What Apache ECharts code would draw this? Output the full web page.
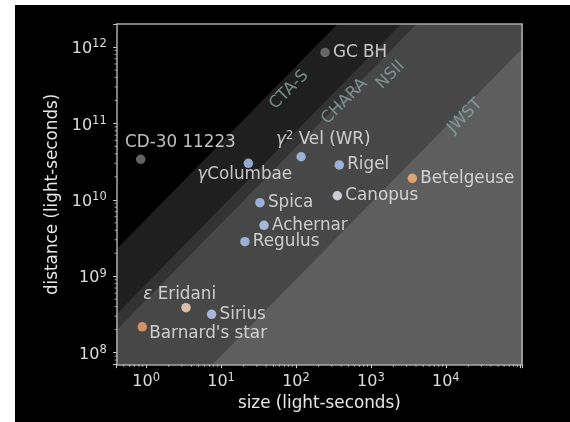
<!DOCTYPE html>
<html>
<head>
<meta charset="utf-8">
<script src="https://cdn.jsdelivr.net/npm/echarts@6/dist/echarts.min.js"></script>
<style>
  html, body { margin: 0; padding: 0; background: #ffffff; }
  #chart { position: absolute; left: 15px; top: 5px; width: 555px; height: 417px; background: #000000; }
</style>
</head>
<body>
<div id="chart"></div>
<script>
// Objects: physical size vs. distance, both in light-seconds
const starNames = ['CD-30 11223', 'γColumbae', 'γ² Vel (WR)', 'GC BH', 'Rigel', 'Betelgeuse', 'Canopus',
                   'Spica', 'Achernar', 'Regulus', 'ε Eridani', 'Sirius', "Barnard's star"];
const starSizes = [0.845, 23.1, 117, 244, 378, 3570, 356, 33.0, 37.4, 20.8, 3.40, 7.48, 0.887];
const starDistances = [3.39e10, 3.0e10, 3.66e10, 8.5e11, 2.86e10, 1.91e10, 1.13e10,
                       9.17e9, 4.64e9, 2.83e9, 3.87e8, 3.17e8, 2.18e8];

// Resolution limits of each instrument, as distance/size ratios (1 / angle in radians)
const bandRatios = [5.6e9, 7.9e8, 4.9e8, 9.1e6];
// Instrument names and where their names are written (size, distance)
const bandNames = ['CTA-S', 'CHARA', 'NSII', 'JWST'];
const bandNameSizes = [80.7, 444, 1828, 18030];
const bandNameDistances = [2.74e11, 1.94e11, 4.30e11, 1.25e11];

// Axis ranges
const xRange = [0.404, 1.04e5];
const yRange = [6.95e7, 2.0e12];

// ---- styling ----
const bandColors = ['#1f1f1f', '#333333', '#474747', '#5e5e5e'];
const starColors = {
  'CD-30 11223': '#7a7a7a', 'GC BH': '#7a7a7a',
  'γColumbae': '#b0cbfa', 'γ² Vel (WR)': '#b0cbfa', 'Rigel': '#b0cbfa', 'Spica': '#b0cbfa',
  'Achernar': '#bed4fa', 'Regulus': '#b0cbfa', 'Sirius': '#bed4fa',
  'Canopus': '#eeeefa', 'Betelgeuse': '#fbb677', 'ε Eridani': '#fde0c5', "Barnard's star": '#f6a869'
};
// Label placement relative to each dot: [align, dx, dy]
const labelPlace = {
  'CD-30 11223': ['left', -15.7, -16.3],
  'γColumbae': ['center', -3.6, 11.7],
  'γ² Vel (WR)': ['left', -25, -16.7],
  'ε Eridani': ['left', -42.7, -12.7],
  "Barnard's star": ['left', 7, 6.6]
};
const textColor = '#eeeeee';
const frameColor = '#ababab';
const font = 'DejaVu Sans';

function richName(n) {
  return n.replace(/([γε])/g, '{g|$1}').replace('²', '{s|2}');
}

function minorValues(lo, hi) {
  const out = [];
  for (let e = Math.floor(Math.log10(lo)); e <= Math.ceil(Math.log10(hi)); e++) {
    for (let m = 2; m <= 9; m++) {
      const v = m * Math.pow(10, e);
      if (v > lo && v < hi) out.push(v);
    }
  }
  return out;
}

function powLabel(maxExp) {
  return function (v) {
    const l = Math.log10(v);
    const e = Math.round(l);
    if (Math.abs(l - e) > 1e-6 || e > maxExp) return '';
    return '{b|10}{s|' + e + '}';
  };
}

const tickRich = {
  b: { fontSize: 16, lineHeight: 21, color: '#dddddd', fontFamily: font },
  s: { fontSize: 11.5, lineHeight: 10, verticalAlign: 'top', color: '#dddddd', fontFamily: font }
};

const starData = starNames.map((n, i) => {
  const p = labelPlace[n];
  const label = p
    ? { position: 'inside', align: p[0], verticalAlign: 'middle', offset: [p[1], p[2]] }
    : { position: 'right', distance: 3.2, align: 'left', verticalAlign: 'middle' };
  return { name: n, value: [starSizes[i], starDistances[i]], itemStyle: { color: starColors[n] }, label: label };
});

const bandLabelData = bandNames.map((n, i) => ({ name: n, value: [bandNameSizes[i], bandNameDistances[i]] }));

const chart = echarts.init(document.getElementById('chart'), null, { renderer: 'canvas' });

chart.setOption({
  backgroundColor: '#000000',
  animation: false,
  grid: { left: 101.7, top: 19, width: 405.3, height: 340.7, outerBoundsMode: 'none', containLabel: false },
  xAxis: [{
    type: 'log', logBase: 10, min: xRange[0], max: xRange[1], z: 10,
    name: 'size (light-seconds)', nameLocation: 'middle', nameGap: 24,
    nameTextStyle: { color: '#e6e6e6', fontSize: 16.8, fontFamily: font },
    axisLine: { show: true, lineStyle: { color: frameColor, width: 1.5 } },
    axisTick: { show: true, inside: false, length: 3.5, lineStyle: { color: '#cccccc', width: 1 } },
    axisLabel: { show: true, margin: 7, formatter: powLabel(4), rich: tickRich, showMinLabel: true, showMaxLabel: true },
    splitLine: { show: false }, minorTick: { show: false }, minorSplitLine: { show: false }
  }, {
    type: 'value', position: 'top', min: 0, max: 1, z: 10,
    axisLine: { show: true, onZero: false, lineStyle: { color: frameColor, width: 1.5 } },
    axisTick: { show: false }, axisLabel: { show: false }, splitLine: { show: false }
  }],
  yAxis: [{
    type: 'log', logBase: 10, min: yRange[0], max: yRange[1], z: 10,
    name: 'distance (light-seconds)', nameLocation: 'middle', nameGap: 55, nameRotate: 90,
    nameTextStyle: { color: '#e6e6e6', fontSize: 16.8, fontFamily: font },
    axisLine: { show: true, lineStyle: { color: frameColor, width: 1.5 } },
    axisTick: { show: true, inside: false, length: 3.5, lineStyle: { color: '#cccccc', width: 1 } },
    axisLabel: { show: true, margin: 10, formatter: powLabel(99), rich: tickRich, padding: [4, 0, 0, 0] },
    splitLine: { show: false }, minorTick: { show: false }, minorSplitLine: { show: false }
  }, {
    type: 'value', position: 'right', min: 0, max: 1, z: 10,
    axisLine: { show: true, onZero: false, lineStyle: { color: frameColor, width: 1.5 } },
    axisTick: { show: false }, axisLabel: { show: false }, splitLine: { show: false }
  }],
  series: [
    {
      // Shaded regions below each instrument's resolution limit
      type: 'custom', name: 'bands', xAxisIndex: 0, yAxisIndex: 0, clip: true, silent: true, z: 1,
      data: bandRatios.map((r, i) => [r, i]),
      renderItem: function (params, api) {
        const r = api.value(0);
        const i = api.value(1);
        const x0 = xRange[0] / 10, x1 = xRange[1] * 10;
        const pts = [
          api.coord([x0, r * x0]),
          api.coord([x1, r * x1]),
          api.coord([x1, yRange[0] / 1000]),
          api.coord([x0, yRange[0] / 1000])
        ];
        return { type: 'polygon', shape: { points: pts }, style: { fill: bandColors[i] } };
      }
    },
    {
      // Minor ticks on the size axis
      type: 'custom', name: 'xminor', xAxisIndex: 0, yAxisIndex: 0, silent: true, z: 11,
      data: minorValues(xRange[0], xRange[1]).map(v => [v, yRange[0]]),
      renderItem: function (params, api) {
        const p = api.coord([api.value(0), yRange[0]]);
        return { type: 'line', shape: { x1: p[0], y1: p[1], x2: p[0], y2: p[1] + 2.2 },
                 style: { stroke: '#cccccc', lineWidth: 0.8 } };
      }
    },
    {
      // Minor ticks on the distance axis
      type: 'custom', name: 'yminor', xAxisIndex: 0, yAxisIndex: 0, silent: true, z: 11,
      data: minorValues(yRange[0], yRange[1]).map(v => [xRange[0], v]),
      renderItem: function (params, api) {
        const p = api.coord([xRange[0], api.value(1)]);
        return { type: 'line', shape: { x1: p[0], y1: p[1], x2: p[0] - 2.2, y2: p[1] },
                 style: { stroke: '#cccccc', lineWidth: 0.8 } };
      }
    },
    {
      // Instrument names along their limits
      type: 'scatter', name: 'instruments', xAxisIndex: 0, yAxisIndex: 0, symbolSize: 0, silent: true, z: 4,
      data: bandLabelData,
      label: {
        show: true, position: 'inside', rotate: 45, formatter: '{b}',
        color: '#8aa6a2', fontSize: 16.5, fontFamily: font
      }
    },
    {
      type: 'scatter', name: 'objects', xAxisIndex: 0, yAxisIndex: 0, symbol: 'circle', symbolSize: 9.5, z: 5,
      data: starData,
      label: {
        show: true, color: textColor, fontSize: 16.8, fontFamily: font, lineHeight: 20,
        formatter: p => richName(p.name),
        rich: {
          g: { fontStyle: 'italic', fontSize: 16.8, lineHeight: 20, color: textColor, fontFamily: font },
          s: { fontSize: 11.5, lineHeight: 10, verticalAlign: 'top', color: textColor, fontFamily: font }
        }
      }
    }
  ]
});
</script>
</body>
</html>
